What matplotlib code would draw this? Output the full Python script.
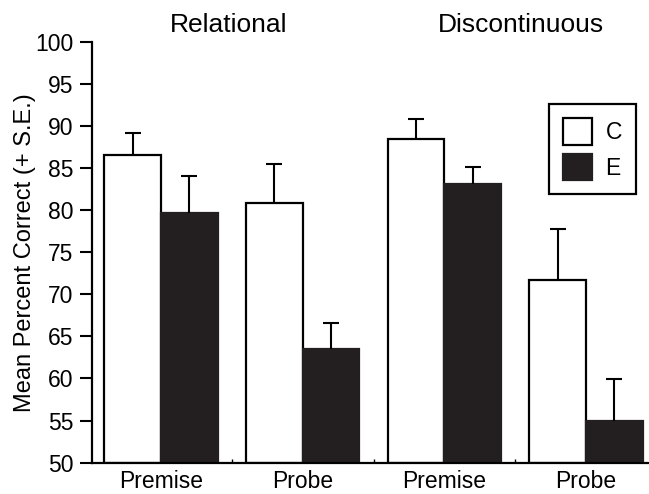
import matplotlib.pyplot as plt
import numpy as np

plt.rcParams['font.family'] = ['Liberation Sans', 'DejaVu Sans']

conditions = ['Premise', 'Probe', 'Premise', 'Probe']
panels = ['Relational', 'Discontinuous']

# group means and upper standard errors
c_mean = [86.5, 80.9, 88.4, 71.7]
c_se = [2.7, 4.6, 2.4, 6.0]
e_mean = [79.7, 63.5, 83.1, 55.0]
e_se = [4.3, 3.1, 2.0, 4.9]

x = np.arange(len(conditions))
w = 0.4

fig = plt.figure(figsize=(6.49, 4.94), dpi=100)
ax = fig.add_axes([0.141, 0.0634, 0.858, 0.8522])

ax.bar(x - w / 2, np.array(c_mean) - 50, w, bottom=50, color='white',
       edgecolor='black', linewidth=1.6, label='C')
ax.bar(x + w / 2, np.array(e_mean) - 50, w, bottom=50, color='#231f20',
       edgecolor='#231f20', linewidth=1.6, label='E')

# upward-only error bars, lower caps hidden
for xs, m, se in [(x - w / 2, c_mean, c_se), (x + w / 2, e_mean, e_se)]:
    _, caps, _ = ax.errorbar(xs, m, yerr=[np.zeros(4), se], fmt='none',
                             ecolor='black', elinewidth=1.5, capsize=6,
                             capthick=1.5, zorder=1)
    caps[0].set_visible(False)

ax.set_ylim(50, 100)
ax.set_xlim(-0.491, 3.44)
ax.set_yticks(np.arange(50, 101, 5))
ax.set_xticks(x)
ax.set_xticklabels(conditions)
ax.set_xticks([0.5, 1.5, 2.5], minor=True)

ax.tick_params(axis='y', length=9, width=1.5, labelsize=16.5, pad=4)
ax.tick_params(axis='x', which='major', length=0, labelsize=16.5, pad=5)
ax.tick_params(axis='x', which='minor', direction='in', length=3, width=1)

for s in ['top', 'right']:
    ax.spines[s].set_visible(False)
for s in ['left', 'bottom']:
    ax.spines[s].set_linewidth(1.6)

ax.set_ylabel('Mean Percent Correct (+ S.E.)', fontsize=17, labelpad=-0.5)

for xp, name in zip([0.48, 2.54], panels):
    ax.text(xp, 1.04, name, transform=ax.get_xaxis_transform(),
            ha='center', va='center', fontsize=19)

leg = ax.legend(loc='upper right', bbox_to_anchor=(0.977, 0.851), fontsize=16.5,
                frameon=True, fancybox=False, edgecolor='black',
                handlelength=1.25, handleheight=1.4, labelspacing=0.4,
                handletextpad=0.6, borderpad=0.6, borderaxespad=0)
leg.get_frame().set_linewidth(1.6)
leg.get_frame().set_alpha(1)

plt.savefig('out.png', dpi=100)
